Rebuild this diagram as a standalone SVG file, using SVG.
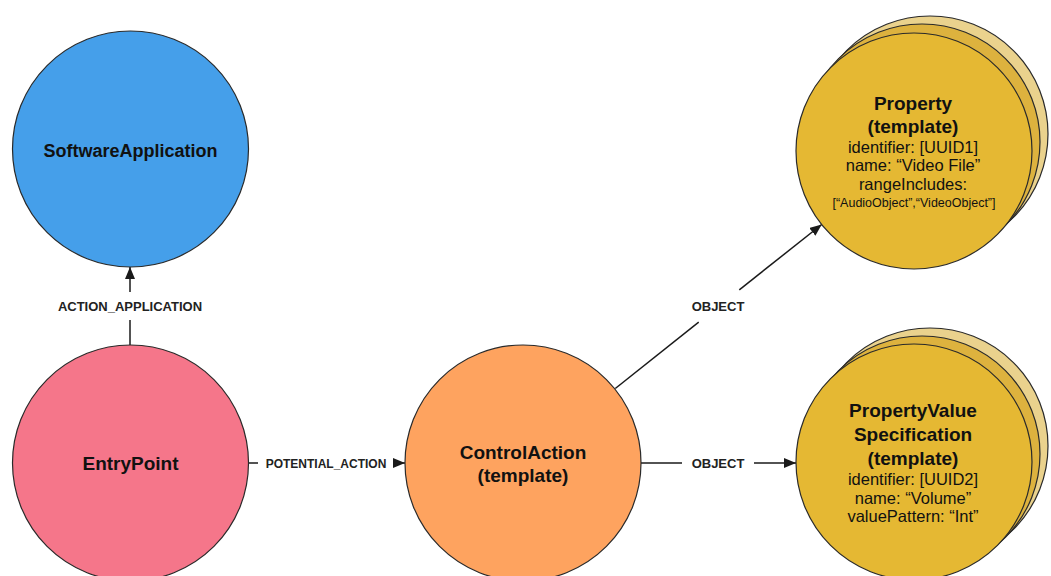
<svg xmlns="http://www.w3.org/2000/svg" width="1051" height="576" viewBox="0 0 1051 576">
<style>
.node{stroke:#2a2a2a;stroke-width:1.2}
.title{font-family:"Liberation Sans",Arial,Helvetica,sans-serif;font-weight:bold;font-size:19px;fill:#111;text-anchor:middle}
.detail{font-family:"Liberation Sans",Arial,Helvetica,sans-serif;font-size:16.5px;fill:#111;text-anchor:middle}
.small{font-family:"Liberation Sans",Arial,Helvetica,sans-serif;font-size:12.5px;fill:#111;text-anchor:middle}
.lbl{font-family:"Liberation Sans",Arial,Helvetica,sans-serif;font-weight:bold;font-size:13px;fill:#222;text-anchor:middle}
.edge{stroke:#1a1a1a;stroke-width:1.5;fill:none}
.back2{fill:#EAD28D}
.back1{fill:#DDB23E}
.front{fill:#E5B833}
</style>
<defs>
<marker id="arr" viewBox="0 0 12 10" markerWidth="12" markerHeight="10" refX="12" refY="5" orient="auto" markerUnits="userSpaceOnUse">
<path d="M0,0 L12,5 L0,10 z" fill="#1a1a1a"/>
</marker>
</defs>
<rect width="1051" height="576" fill="#ffffff"/>
<g id="connectors">
<line class="edge" x1="130" y1="345" x2="130" y2="320"/>
<line class="edge" x1="130" y1="292" x2="130" y2="267" marker-end="url(#arr)"/>
<text class="lbl" x="130" y="310.5">ACTION_APPLICATION</text>
<line class="edge" x1="248" y1="463" x2="258" y2="463"/>
<line class="edge" x1="393" y1="463" x2="405" y2="463" marker-end="url(#arr)"/>
<text class="lbl" x="326" y="467.5" style="font-size:12px">POTENTIAL_ACTION</text>
<line class="edge" x1="615.3" y1="388.5" x2="698.7" y2="322.2"/>
<line class="edge" x1="739.3" y1="289.8" x2="821.7" y2="224.5" marker-end="url(#arr)"/>
<text class="lbl" x="718" y="310.5">OBJECT</text>
<line class="edge" x1="641" y1="463" x2="682" y2="463"/>
<line class="edge" x1="754" y1="463" x2="796" y2="463" marker-end="url(#arr)"/>
<text class="lbl" x="718" y="467.5">OBJECT</text>
</g>
<g id="SoftwareApplication">
<circle class="node" cx="130.5" cy="149" r="118" fill="#459FEA"/>
<text class="title" x="130.5" y="157" style="font-size:18px">SoftwareApplication</text>
</g>
<g id="EntryPoint">
<circle class="node" cx="130.5" cy="463" r="118" fill="#F5768A"/>
<text class="title" x="130.5" y="470">EntryPoint</text>
</g>
<g id="ControlAction">
<circle class="node" cx="523" cy="463" r="118" fill="#FEA35F"/>
<text class="title" x="523" y="459">ControlAction</text>
<text class="title" x="523" y="482">(template)</text>
</g>
<g id="Property">
<circle class="node back2" cx="930" cy="134" r="118"/>
<circle class="node back1" cx="922" cy="142" r="118"/>
<circle class="node front" cx="914" cy="151" r="118"/>
<text class="title" x="913" y="110">Property</text>
<text class="title" x="913" y="133">(template)</text>
<text class="detail" x="913" y="153">identifier: [UUID1]</text>
<text class="detail" x="913" y="171">name: “Video File”</text>
<text class="detail" x="913" y="190">rangeIncludes:</text>
<text class="small" x="914" y="207">[“AudioObject”,“VideoObject”]</text>
</g>
<g id="PropertyValueSpecification">
<circle class="node back2" cx="930" cy="446" r="118"/>
<circle class="node back1" cx="922" cy="454" r="118"/>
<circle class="node front" cx="914" cy="462" r="118"/>
<text class="title" x="913" y="417">PropertyValue</text>
<text class="title" x="913" y="441">Specification</text>
<text class="title" x="913" y="465">(template)</text>
<text class="detail" x="913" y="485">identifier: [UUID2]</text>
<text class="detail" x="913" y="504">name: “Volume”</text>
<text class="detail" x="913" y="522">valuePattern: “Int”</text>
</g>
</svg>
